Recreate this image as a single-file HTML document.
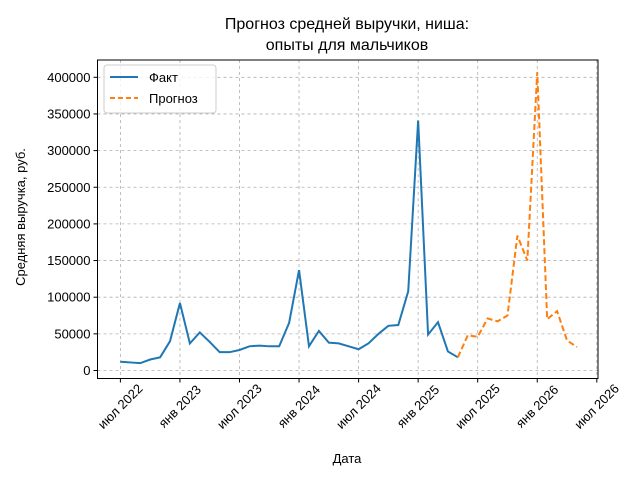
<!DOCTYPE html>
<html><head><meta charset="utf-8"><style>
body{margin:0;background:#fff;}
svg{display:block;font-family:"Liberation Sans","DejaVu Sans",sans-serif;}
</style></head><body>
<svg id="chart" width="640" height="480">
<text x="347" y="29" font-size="16" text-anchor="middle">Прогноз средней выручки, ниша:</text>
<text x="347" y="50" font-size="16" text-anchor="middle">опыты для мальчиков</text>
<g id="grid"></g><g id="series"></g><g id="axes"></g>
<text x="347" y="463" font-size="13" text-anchor="middle">Дата</text>
<text transform="translate(25,217) rotate(-90)" font-size="13" text-anchor="middle">Средняя выручка, руб.</text>
<g>
<rect x="104" y="65" width="112" height="48" rx="3" fill="#fff" fill-opacity="0.8" stroke="#ccc"/>
<line x1="110" y1="77" x2="138" y2="77" stroke="#1f77b4" stroke-width="2"/>
<text x="149" y="82" font-size="13">Факт</text>
<line x1="110" y1="98" x2="138" y2="98" stroke="#ff7f0e" stroke-width="2" stroke-dasharray="5,3"/>
<text x="149" y="103" font-size="13">Прогноз</text>
</g>
</svg>
<script>
// month index 0 = Jul 2022
const factMonths = [0,1,2,3,4,5,6,7,8,9,10,11,12,13,14,15,16,17,18,19,20,21,22,23,24,25,26,27,28,29,30,31,32,33,34];
const factValues = [12000,11000,10000,15000,18000,40000,92000,37000,52000,39000,25000,25000,28000,33000,34000,33000,33000,65000,137000,33000,54000,38000,37000,33000,29000,37000,50000,61000,62000,108000,341000,49000,66000,26000,18000];
const fcMonths = [34,35,36,37,38,39,40,41,42,43,44,45,46];
const fcValues = [18000,48000,46000,71000,67000,75000,184000,150000,407000,70000,81000,41000,32000];
const yTicks = [0,50000,100000,150000,200000,250000,300000,350000,400000];
const xTickMonths = [0,6,12,18,24,30,36,42,48];
const xTickLabels = ["июл 2022","янв 2023","июл 2023","янв 2024","июл 2024","янв 2025","июл 2025","янв 2026","июл 2026"];
const L=97.5,R=598,T=60,B=378.5;
const X=m=>120.4+m*(596.8-120.4)/48;
const Y=v=>370.5-v*(370.5-77.3)/400000;
const NS="http://www.w3.org/2000/svg";
function mk(tag,attrs,parent){const e=document.createElementNS(NS,tag);for(const k in attrs)e.setAttribute(k,attrs[k]);parent.appendChild(e);return e;}
const grid=document.getElementById('grid'),axes=document.getElementById('axes'),series=document.getElementById('series');
yTicks.forEach(v=>{
  const y=Y(v);
  const g=mk('line',{x1:L,x2:R,y1:y,y2:y,stroke:'#b0b0b0','stroke-width':0.8,'stroke-dasharray':'3,3'},grid);
  
  
  mk('line',{x1:L-4,x2:L,y1:y,y2:y,stroke:'#000'},axes);
  const t=mk('text',{x:L-7,y:y+4.5,'font-size':13,'text-anchor':'end'},axes);
  t.textContent=String(v);
  
  
});
xTickMonths.forEach((m,i)=>{
  const x=X(m);
  const g=mk('line',{x1:x,x2:x,y1:T,y2:B,stroke:'#b0b0b0','stroke-width':0.8,'stroke-dasharray':'3,3'},grid);
  
  
  mk('line',{x1:x,x2:x,y1:B,y2:B+4,stroke:'#000'},axes);
  const t=mk('text',{transform:`translate(${x+3},${B+31}) rotate(-45)`,'font-size':13,'text-anchor':'middle'},axes);
  t.textContent=xTickLabels[i];
  
  
});
const frame=mk('rect',{x:L,y:T,width:R-L,height:B-T,fill:'none',stroke:'#000','stroke-width':1},axes);


const fp=mk('polyline',{points:factMonths.map((m,i)=>X(m)+','+Y(factValues[i])).join(' '),fill:'none',stroke:'#1f77b4','stroke-width':2},series);


const cp=mk('polyline',{points:fcMonths.map((m,i)=>X(m)+','+Y(fcValues[i])).join(' '),fill:'none',stroke:'#ff7f0e','stroke-width':2,'stroke-dasharray':'6,3'},series);


</script>
</body></html>
